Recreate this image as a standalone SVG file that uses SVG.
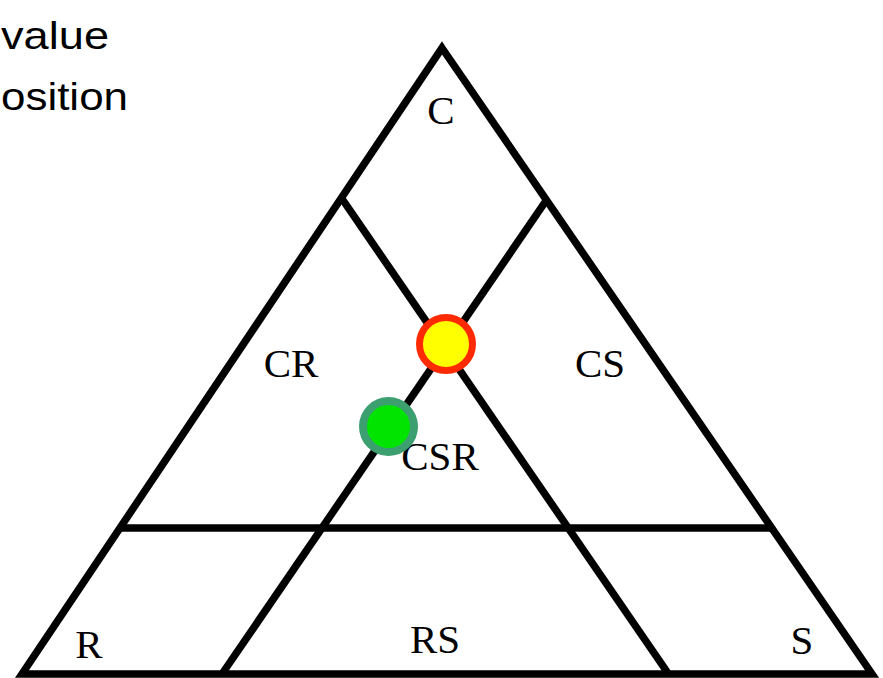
<svg xmlns="http://www.w3.org/2000/svg" width="883" height="678" viewBox="0 0 883 678">
  <style>
    .ln { stroke: #000; stroke-width: 7.5; fill: none; stroke-linejoin: miter; stroke-miterlimit: 10; }
    .lbl { font-family: "Liberation Serif", "Times New Roman", serif; font-size: 41px; fill: #000; text-anchor: middle; }
    .cap { font-family: "Liberation Sans", Arial, sans-serif; font-size: 39px; fill: #000; }
  </style>
  <rect width="883" height="678" fill="#fff"/>
  <g id="caption">
    <text class="cap" x="1" y="49" textLength="108" lengthAdjust="spacingAndGlyphs">value</text>
    <text class="cap" x="1" y="110" textLength="127" lengthAdjust="spacingAndGlyphs">osition</text>
  </g>
  <g id="triangle">
    <polygon class="ln" points="442,48 872,674 22,674"/>
    <line class="ln" x1="120" y1="528" x2="772" y2="528"/>
    <line class="ln" x1="341.5" y1="198" x2="668.5" y2="674"/>
    <line class="ln" x1="546.5" y1="200" x2="222" y2="674"/>
  </g>
  <g id="labels">
    <text class="lbl" x="441" y="124">C</text>
    <text class="lbl" x="291" y="377">CR</text>
    <text class="lbl" x="600" y="377">CS</text>
    <text class="lbl" x="440" y="470">CSR</text>
    <text class="lbl" x="89" y="658">R</text>
    <text class="lbl" x="435" y="653">RS</text>
    <text class="lbl" x="802" y="654">S</text>
  </g>
  <g id="point-yellow">
    <circle cx="446" cy="344" r="26.5" fill="#ffff00" stroke="#ff2a00" stroke-width="7"/>
  </g>
  <g id="point-green">
    <circle cx="388.5" cy="426.5" r="25.5" fill="#00e400" stroke="#3c9f70" stroke-width="8"/>
  </g>
</svg>
